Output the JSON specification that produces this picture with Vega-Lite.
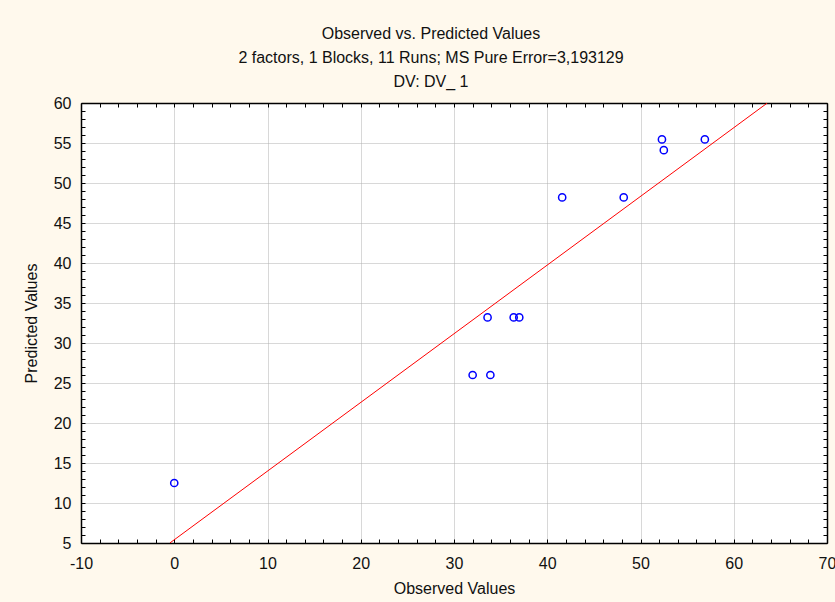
{
  "$schema": "https://vega.github.io/schema/vega-lite/v6.json",
  "width": 746,
  "height": 440,
  "autosize": {"type": "none"},
  "padding": {"left": 81, "top": 103, "right": 8, "bottom": 59},
  "background": "#FFF9ED",
  "config": {
    "font": "Liberation Sans",
    "view": {"fill": "#ffffff", "stroke": null},
    "axis": {
      "labelFont": "Liberation Sans",
      "labelFontSize": 16,
      "labelColor": "#111111",
      "titleFont": "Liberation Sans",
      "titleFontSize": 16,
      "titleFontWeight": "normal",
      "titleColor": "#111111",
      "domainColor": "#000000",
      "domainWidth": 1.5,
      "tickColor": "#000000",
      "tickWidth": 1,
      "tickSize": -4,
      "gridColor": "#b0b0b0",
      "gridDash": [1, 1],
      "gridWidth": 1
    }
  },
  "title": {
    "text": ["Observed vs. Predicted Values", "2 factors, 1 Blocks, 11 Runs; MS Pure Error=3,193129", "DV: DV_ 1"],
    "font": "Liberation Sans",
    "fontSize": 16,
    "fontWeight": "normal",
    "color": "#111111",
    "lineHeight": 24,
    "anchor": "middle",
    "frame": "group",
    "dx": -23,
    "offset": 5
  },
  "layer": [
    {
      "data": {"values": [
        {"observed": 0, "predicted": 12.5},
        {"observed": 32.0, "predicted": 26.0},
        {"observed": 33.9, "predicted": 26.0},
        {"observed": 33.6, "predicted": 33.2},
        {"observed": 36.4, "predicted": 33.2},
        {"observed": 37.0, "predicted": 33.2},
        {"observed": 41.6, "predicted": 48.2},
        {"observed": 48.2, "predicted": 48.2},
        {"observed": 52.3, "predicted": 55.45},
        {"observed": 52.5, "predicted": 54.1},
        {"observed": 56.9, "predicted": 55.45}
      ]},
      "mark": {"type": "point", "shape": "circle", "filled": false, "color": "#0000ff", "opacity": 1, "strokeWidth": 1.5, "size": 52},
      "encoding": {
        "x": {
          "field": "observed", "type": "quantitative",
          "scale": {"domain": [-10, 70], "nice": false, "zero": false},
          "axis": {
            "orient": "bottom",
            "title": "Observed Values",
            "titlePadding": 9,
            "values": [-10,-8,-6,-4,-2,0,2,4,6,8,10,12,14,16,18,20,22,24,26,28,30,32,34,36,38,40,42,44,46,48,50,52,54,56,58,60,62,64,66,68,70],
            "labelExpr": "datum.value % 10 === 0 ? replace(datum.label, '\u2212', '-') : ''",
            "labelPadding": 16,
            "labelFlush": false,
            "grid": true,
            "gridOpacity": {"condition": {"test": "datum.value % 10 === 0 && datum.value > -10 && datum.value < 70", "value": 1}, "value": 0}
          }
        },
        "y": {
          "field": "predicted", "type": "quantitative",
          "scale": {"domain": [5, 60], "nice": false, "zero": false},
          "axis": {
            "orient": "left",
            "title": "Predicted Values",
            "titlePadding": 14,
            "values": [5,6,7,8,9,10,11,12,13,14,15,16,17,18,19,20,21,22,23,24,25,26,27,28,29,30,31,32,33,34,35,36,37,38,39,40,41,42,43,44,45,46,47,48,49,50,51,52,53,54,55,56,57,58,59,60],
            "labelExpr": "datum.value % 5 === 0 ? datum.label : ''",
            "labelPadding": 14,
            "labelFlush": false,
            "grid": true,
            "gridOpacity": {"condition": {"test": "datum.value % 5 === 0 && datum.value > 5 && datum.value < 60", "value": 1}, "value": 0}
          }
        }
      }
    },
    {
      "data": {"values": [
        {"observed": -0.47, "predicted": 5},
        {"observed": 63.6, "predicted": 60}
      ]},
      "mark": {"type": "line", "color": "#ff0000", "strokeWidth": 1, "clip": true},
      "encoding": {
        "x": {
          "field": "observed", "type": "quantitative",
          "axis": {
            "orient": "top",
            "title": null,
            "values": [-10,-8,-6,-4,-2,0,2,4,6,8,10,12,14,16,18,20,22,24,26,28,30,32,34,36,38,40,42,44,46,48,50,52,54,56,58,60,62,64,66,68,70],
            "labels": false,
            "grid": false
          }
        },
        "y": {
          "field": "predicted", "type": "quantitative",
          "axis": {
            "orient": "right",
            "title": null,
            "values": [5,6,7,8,9,10,11,12,13,14,15,16,17,18,19,20,21,22,23,24,25,26,27,28,29,30,31,32,33,34,35,36,37,38,39,40,41,42,43,44,45,46,47,48,49,50,51,52,53,54,55,56,57,58,59,60],
            "labels": false,
            "grid": false
          }
        }
      }
    }
  ],
  "resolve": {"axis": {"x": "independent", "y": "independent"}}
}
